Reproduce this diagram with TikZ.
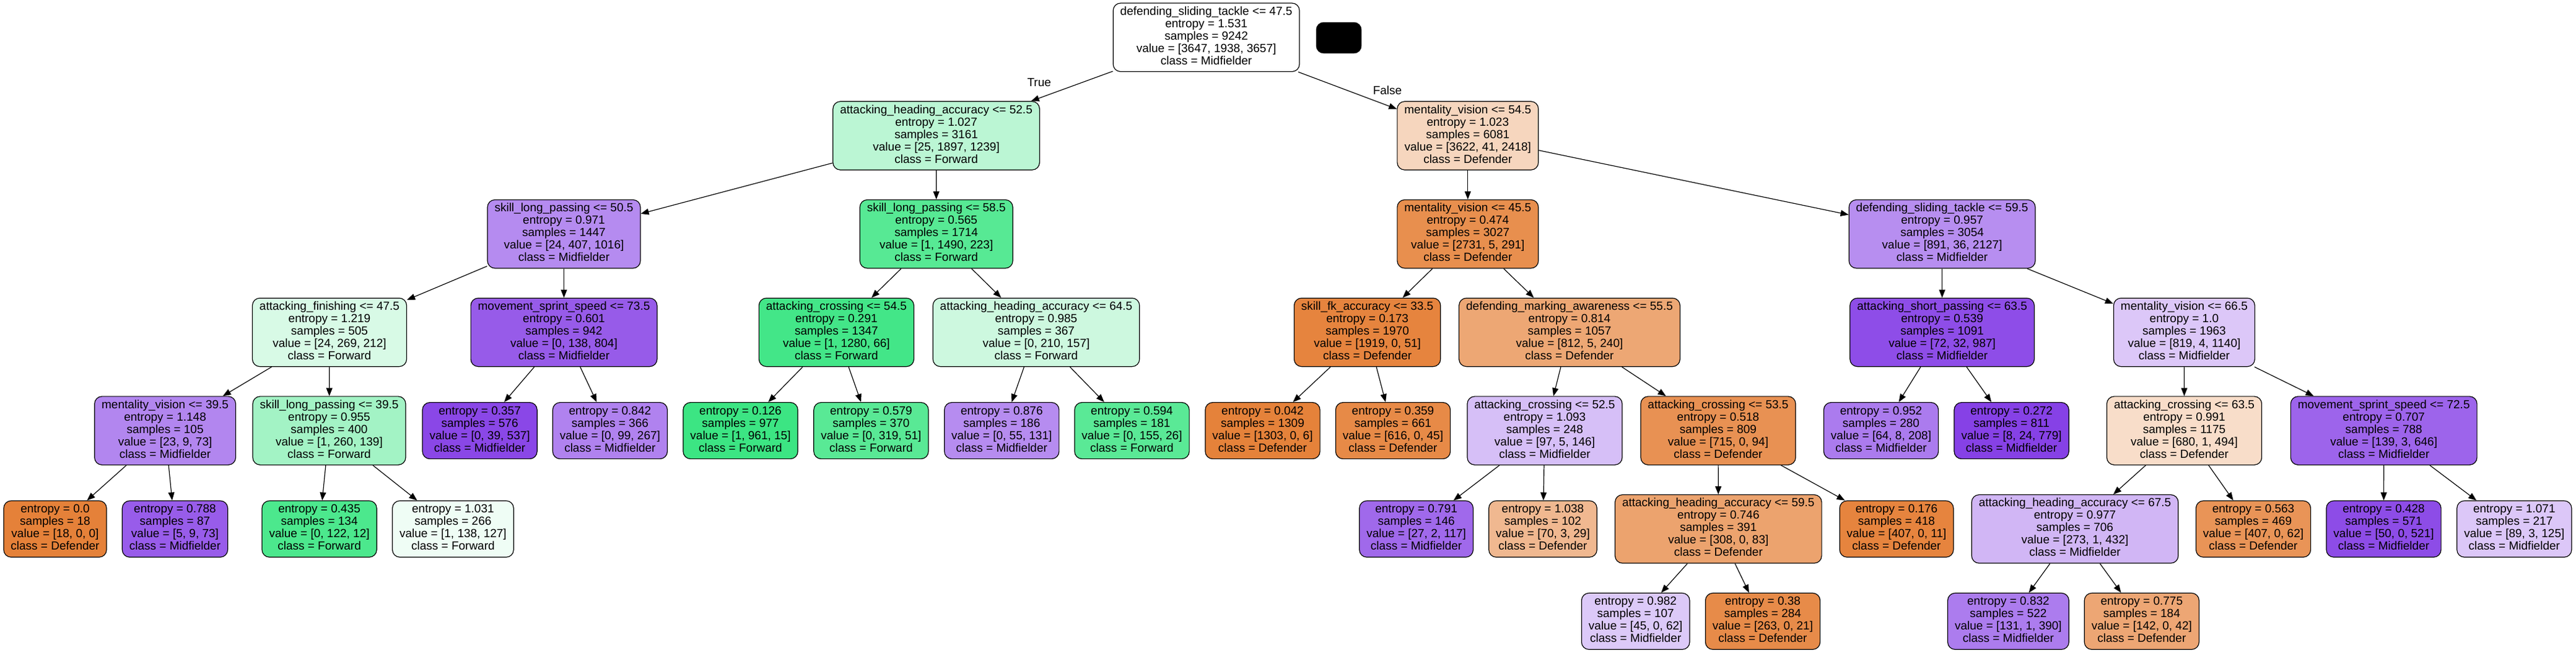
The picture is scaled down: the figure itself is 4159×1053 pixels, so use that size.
\documentclass[tikz,border=0pt]{standalone}
\usepackage{fontspec}
\setmainfont{Liberation Sans}
\usetikzlibrary{arrows.meta}
\definecolor{cD}{RGB}{229,129,57}
\definecolor{cF}{RGB}{57,229,129}
\definecolor{cM}{RGB}{129,57,229}
\newcommand\lfx[4]{\strut entropy = #1\\samples = #2\\value = [#3]\\class = #4\strut}
\newcommand\spx[5]{\strut #1\\entropy = #2\\samples = #3\\value = [#4]\\class = #5\strut}
\tikzset{
  tn/.style={draw=black, line width=1.2pt, rounded corners=12pt, align=center,
    inner xsep=11.5pt, inner ysep=0pt, font=\fontsize{19}{20}\selectfont},
  splitbox/.style={tn, minimum height=110.5pt},
  leafbox/.style={tn, minimum height=91pt},
  arr/.style={-{Triangle[length=13pt,width=10pt]}, line width=1.2pt},
  lbl/.style={font=\fontsize{19}{20}\selectfont, inner sep=0pt}
}
\begin{document}
\begin{tikzpicture}[x=1pt,y=-1pt]
\useasboundingbox (0,0) rectangle (4159,1053);
% level 0
\node[splitbox, fill=cM!0.2!white] (n0) at (1947.6,60.3) {\spx{defending\_sliding\_tackle <= 47.5}{1.531}{9242}{3647, 1938, 3657}{Midfielder}};
\node[draw=black, fill=black, rounded corners=12pt, minimum width=73pt, minimum height=50pt, inner sep=0pt] (blk) at (2161.5,61) {};
% level 1
\node[splitbox, fill=cF!34.2!white] (nA) at (1511.6,219) {\spx{attacking\_heading\_accuracy <= 52.5}{1.027}{3161}{25, 1897, 1239}{Forward}};
\node[splitbox, fill=cD!32.9!white] (nB) at (2369.8,219) {\spx{mentality\_vision <= 54.5}{1.023}{6081}{3622, 41, 2418}{Defender}};
% level 2
\node[splitbox, fill=cM!58.6!white] (nC) at (910.5,377.7) {\spx{skill\_long\_passing <= 50.5}{0.971}{1447}{24, 407, 1016}{Midfielder}};
\node[splitbox, fill=cF!85!white] (nD) at (1511.7,377.7) {\spx{skill\_long\_passing <= 58.5}{0.565}{1714}{1, 1490, 223}{Forward}};
\node[splitbox, fill=cD!89.2!white] (nE) at (2369.8,377.7) {\spx{mentality\_vision <= 45.5}{0.474}{3027}{2731, 5, 291}{Defender}};
\node[splitbox, fill=cM!57.1!white] (nF) at (3135.6,377.7) {\spx{defending\_sliding\_tackle <= 59.5}{0.957}{3054}{891, 36, 2127}{Midfielder}};
% level 3
\node[splitbox, fill=cF!19.5!white] (nG) at (532,536.4) {\spx{attacking\_finishing <= 47.5}{1.219}{505}{24, 269, 212}{Forward}};
\node[splitbox, fill=cM!82.8!white] (nH) at (910.5,536.4) {\spx{movement\_sprint\_speed <= 73.5}{0.601}{942}{0, 138, 804}{Midfielder}};
\node[splitbox, fill=cF!94.8!white] (nI) at (1350.4,536.4) {\spx{attacking\_crossing <= 54.5}{0.291}{1347}{1, 1280, 66}{Forward}};
\node[splitbox, fill=cF!25.2!white] (nJ) at (1673,536.4) {\spx{attacking\_heading\_accuracy <= 64.5}{0.985}{367}{0, 210, 157}{Forward}};
\node[splitbox, fill=cD!97.3!white] (nK) at (2207.6,536.4) {\spx{skill\_fk\_accuracy <= 33.5}{0.173}{1970}{1919, 0, 51}{Defender}};
\node[splitbox, fill=cD!70!white] (nL) at (2534,536.4) {\spx{defending\_marking\_awareness <= 55.5}{0.814}{1057}{812, 5, 240}{Defender}};
\node[splitbox, fill=cM!89.8!white] (nM) at (3135.6,536.4) {\spx{attacking\_short\_passing <= 63.5}{0.539}{1091}{72, 32, 987}{Midfielder}};
\node[splitbox, fill=cM!28.1!white] (nN) at (3526.4,536.4) {\spx{mentality\_vision <= 66.5}{1.0}{1963}{819, 4, 1140}{Midfielder}};
% level 4
\node[splitbox, fill=cM!61!white] (nO) at (266.6,695.1) {\spx{mentality\_vision <= 39.5}{1.148}{105}{23, 9, 73}{Midfielder}};
\node[splitbox, fill=cF!46.4!white] (nP) at (531.5,695.1) {\spx{skill\_long\_passing <= 39.5}{0.955}{400}{1, 260, 139}{Forward}};
\node[leafbox, fill=cM!92.7!white] (nQ) at (774.6,695.1) {\lfx{0.357}{576}{0, 39, 537}{Midfielder}};
\node[leafbox, fill=cM!62.9!white] (nR) at (984.9,695.1) {\lfx{0.842}{366}{0, 99, 267}{Midfielder}};
\node[leafbox, fill=cF!98.3!white] (nS) at (1195.5,695.1) {\lfx{0.126}{977}{1, 961, 15}{Forward}};
\node[leafbox, fill=cF!84!white] (nT) at (1406.4,695.1) {\lfx{0.579}{370}{0, 319, 51}{Forward}};
\node[leafbox, fill=cM!58!white] (nU) at (1617.3,695.1) {\lfx{0.876}{186}{0, 55, 131}{Midfielder}};
\node[leafbox, fill=cF!83.2!white] (nV) at (1827.5,695.1) {\lfx{0.594}{181}{0, 155, 26}{Forward}};
\node[leafbox, fill=cD!99.5!white] (nW) at (2038.5,695.1) {\lfx{0.042}{1309}{1303, 0, 6}{Defender}};
\node[leafbox, fill=cD!92.7!white] (nX) at (2249,695.1) {\lfx{0.359}{661}{616, 0, 45}{Defender}};
\node[splitbox, fill=cM!32.5!white] (nY) at (2494,695.1) {\spx{attacking\_crossing <= 52.5}{1.093}{248}{97, 5, 146}{Midfielder}};
\node[splitbox, fill=cD!86.9!white] (nZ) at (2774,695.1) {\spx{attacking\_crossing <= 53.5}{0.518}{809}{715, 0, 94}{Defender}};
\node[leafbox, fill=cM!66.7!white] (nAA) at (3037,695.1) {\lfx{0.952}{280}{64, 8, 208}{Midfielder}};
\node[leafbox, fill=cM!95.9!white] (nAB) at (3247.6,695.1) {\lfx{0.272}{811}{8, 24, 779}{Midfielder}};
\node[splitbox, fill=cD!27.3!white] (nAC) at (3526.5,695.1) {\spx{attacking\_crossing <= 63.5}{0.991}{1175}{680, 1, 494}{Defender}};
\node[splitbox, fill=cM!78.1!white] (nAD) at (3848.7,695.1) {\spx{movement\_sprint\_speed <= 72.5}{0.707}{788}{139, 3, 646}{Midfielder}};
% level 5
\node[leafbox, fill=cD!100!white] (q1) at (89,853.8) {\lfx{0.0}{18}{18, 0, 0}{Defender}};
\node[leafbox, fill=cM!82.1!white] (q2) at (282.5,853.8) {\lfx{0.788}{87}{5, 9, 73}{Midfielder}};
\node[leafbox, fill=cF!90.2!white] (q3) at (515.6,853.8) {\lfx{0.435}{134}{0, 122, 12}{Forward}};
\node[leafbox, fill=cF!7.9!white] (q4) at (731.4,853.8) {\lfx{1.031}{266}{1, 138, 127}{Forward}};
\node[leafbox, fill=cM!75.6!white] (q5) at (2286.6,853.8) {\lfx{0.791}{146}{27, 2, 117}{Midfielder}};
\node[leafbox, fill=cD!56.2!white] (q6) at (2491,853.8) {\lfx{1.038}{102}{70, 3, 29}{Defender}};
\node[splitbox, fill=cD!73.1!white] (q7) at (2774.3,853.8) {\spx{attacking\_heading\_accuracy <= 59.5}{0.746}{391}{308, 0, 83}{Defender}};
\node[leafbox, fill=cD!97.3!white] (q8) at (3062,853.8) {\lfx{0.176}{418}{407, 0, 11}{Defender}};
\node[splitbox, fill=cM!36.7!white] (q9) at (3350,853.8) {\spx{attacking\_heading\_accuracy <= 67.5}{0.977}{706}{273, 1, 432}{Midfielder}};
\node[leafbox, fill=cD!84.8!white] (q10) at (3638,853.8) {\lfx{0.563}{469}{407, 0, 62}{Defender}};
\node[leafbox, fill=cM!90.4!white] (q11) at (3848.5,853.8) {\lfx{0.428}{571}{50, 0, 521}{Midfielder}};
\node[leafbox, fill=cM!28.1!white] (q12) at (4059.3,853.8) {\lfx{1.071}{217}{89, 3, 125}{Midfielder}};
% level 6
\node[leafbox, fill=cM!27.4!white] (r1) at (2640.7,1002.8) {\lfx{0.982}{107}{45, 0, 62}{Midfielder}};
\node[leafbox, fill=cD!92!white] (r2) at (2846,1002.8) {\lfx{0.38}{284}{263, 0, 21}{Defender}};
\node[leafbox, fill=cM!66.2!white] (r3) at (3242.4,1002.8) {\lfx{0.832}{522}{131, 1, 390}{Midfielder}};
\node[leafbox, fill=cD!70.4!white] (r4) at (3457.8,1002.8) {\lfx{0.775}{184}{142, 0, 42}{Defender}};
% edges
\foreach \a/\b in {n0/nA, n0/nB, nA/nC, nA/nD, nB/nE, nB/nF,
  nC/nG, nC/nH, nD/nI, nD/nJ, nE/nK, nE/nL, nF/nM, nF/nN,
  nG/nO, nG/nP, nH/nQ, nH/nR, nI/nS, nI/nT, nJ/nU, nJ/nV,
  nK/nW, nK/nX, nL/nY, nL/nZ, nM/nAA, nM/nAB, nN/nAC, nN/nAD,
  nO/q1, nO/q2, nP/q3, nP/q4, nY/q5, nY/q6, nZ/q7, nZ/q8,
  nAC/q9, nAC/q10, nAD/q11, nAD/q12, q7/r1, q7/r2, q9/r3, q9/r4}
  {\draw[arr] (\a) -- (\b);}
\node[lbl] (tTrue) at (1677.7,133) {True};
\node[lbl] (tFalse) at (2240,146) {False};
\end{tikzpicture}
\end{document}
